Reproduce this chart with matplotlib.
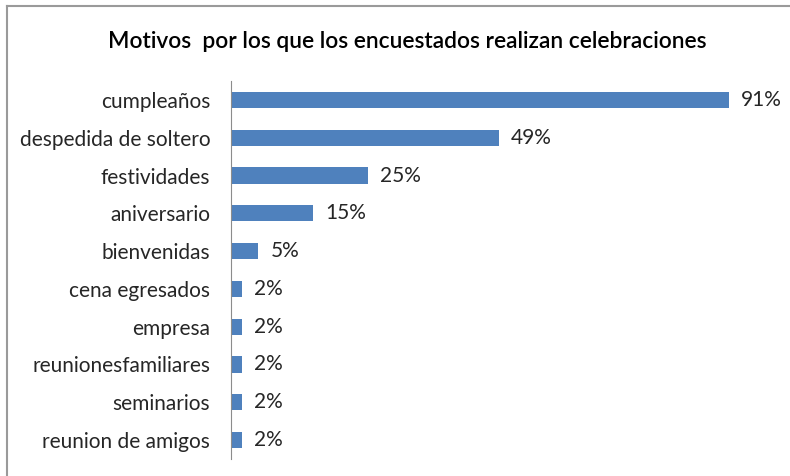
import matplotlib.pyplot as plt
from matplotlib.lines import Line2D

categorias = ["cumpleaños", "despedida de soltero", "festividades", "aniversario",
              "bienvenidas", "cena egresados", "empresa", "reunionesfamiliares",
              "seminarios", "reunion de amigos"]
porcentajes = [91, 49, 25, 15, 5, 2, 2, 2, 2, 2]

plt.rcParams['font.family'] = ['Lato', 'DejaVu Sans']

fig = plt.figure(figsize=(7.9, 4.76), dpi=100)
ax = fig.add_axes([231 / 790, 1 - 459 / 476, 547 / 790, 378 / 476])

pos = list(range(len(categorias)))
ax.barh(pos, porcentajes, height=0.43, color="#4F81BD")
ax.set_xlim(0, 100)
ax.set_ylim(len(categorias) - 0.5, -0.5)
ax.set_yticks(pos)
ax.set_yticklabels(categorias, fontsize=15, color="#262626")
ax.tick_params(axis="y", length=0, pad=15)
ax.set_xticks([])
for s in ["top", "right", "bottom"]:
    ax.spines[s].set_visible(False)
ax.spines["left"].set_color("#8c8c8c")

for y, v in zip(pos, porcentajes):
    ax.text(v + 2.2, y, f"{v}%", va="center", ha="left", fontsize=15, color="#262626")

fig.text(0.515, 1 - 42 / 476, "Motivos  por los que los encuestados realizan celebraciones",
         ha="center", va="center", fontsize=16.4, fontweight="semibold", color="black")

# marco del grafico
fig.add_artist(Line2D([7 / 790, 1], [1 - 6 / 476, 1 - 6 / 476], color="#9a9a9a", lw=1.5))
fig.add_artist(Line2D([7 / 790, 7 / 790], [0, 1 - 6 / 476], color="#9a9a9a", lw=1.5))

fig.savefig("out.png", dpi=100)
